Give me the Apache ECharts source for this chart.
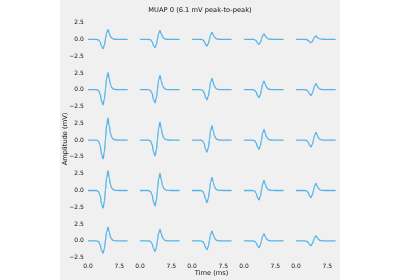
<!DOCTYPE html>
<html><head><meta charset="utf-8">
<script src="https://cdn.jsdelivr.net/npm/echarts@6/dist/echarts.min.js"></script>
<style>html,body{margin:0;padding:0;background:#fff}#c{width:400px;height:280px}</style>
</head><body><div id="c"></div>
<script>
// Time axis (ms), shared by all channels
const timeMs = [0, 2, 2.5, 2.9, 3.25, 3.6, 3.95, 4.2, 4.45, 4.8, 5.1, 5.4, 5.7, 6.0, 6.5, 7.5, 9.5];
// MUAP amplitude (mV) per channel, row r / column c
const ch11 = [0,0,-0.07,-0.39,-1.05,-1.4,-0.84,0.07,0.94,1.45,0.9,0.44,0.19,0.07,0.01,0,0];
const ch12 = [0,0,-0.06,-0.35,-0.94,-1.25,-0.75,0.07,0.85,1.3,0.81,0.39,0.17,0.07,0.01,0,0];
const ch13 = [0,0,-0.05,-0.28,-0.75,-1.0,-0.6,0.05,0.68,1.05,0.65,0.32,0.14,0.05,0.01,0,0];
const ch14 = [0,0,-0.04,-0.21,-0.56,-0.75,-0.45,0.04,0.52,0.8,0.5,0.24,0.1,0.04,0.01,0,0];
const ch15 = [0,0,-0.03,-0.14,-0.38,-0.5,-0.3,0.03,0.33,0.5,0.31,0.15,0.07,0.03,0.01,0,0];
const ch21 = [0,0,-0.11,-0.63,-1.69,-2.25,-1.35,0.13,1.66,2.55,1.58,0.77,0.33,0.13,0.03,0,0];
const ch22 = [0,0,-0.1,-0.55,-1.46,-1.95,-1.17,0.11,1.4,2.15,1.33,0.65,0.28,0.11,0.02,0,0];
const ch23 = [0,0,-0.08,-0.42,-1.13,-1.5,-0.9,0.09,1.11,1.7,1.05,0.51,0.22,0.09,0.02,0,0];
const ch24 = [0,0,-0.06,-0.34,-0.9,-1.2,-0.72,0.07,0.85,1.3,0.81,0.39,0.17,0.07,0.01,0,0];
const ch25 = [0,0,-0.04,-0.24,-0.64,-0.85,-0.51,0.05,0.59,0.9,0.56,0.27,0.12,0.05,0.01,0,0];
const ch31 = [0,0,-0.14,-0.78,-2.1,-2.8,-1.68,0.17,2.15,3.3,2.05,0.99,0.43,0.17,0.03,0,0];
const ch32 = [0,0,-0.12,-0.66,-1.76,-2.35,-1.41,0.14,1.76,2.7,1.67,0.81,0.35,0.14,0.03,0,0];
const ch33 = [0,0,-0.09,-0.5,-1.35,-1.8,-1.08,0.11,1.4,2.15,1.33,0.65,0.28,0.11,0.02,0,0];
const ch34 = [0,0,-0.07,-0.38,-1.01,-1.35,-0.81,0.08,1.04,1.6,0.99,0.48,0.21,0.08,0.02,0,0];
const ch35 = [0,0,-0.05,-0.28,-0.75,-1.0,-0.6,0.06,0.75,1.15,0.71,0.35,0.15,0.06,0.01,0,0];
const ch41 = [0,0,-0.13,-0.74,-1.99,-2.65,-1.59,0.15,1.92,2.95,1.83,0.89,0.38,0.15,0.03,0,0];
const ch42 = [0,0,-0.12,-0.64,-1.73,-2.3,-1.38,0.13,1.66,2.55,1.58,0.77,0.33,0.13,0.03,0,0];
const ch43 = [0,0,-0.09,-0.5,-1.35,-1.8,-1.08,0.1,1.27,1.95,1.21,0.59,0.25,0.1,0.02,0,0];
const ch44 = [0,0,-0.07,-0.39,-1.05,-1.4,-0.84,0.08,0.98,1.5,0.93,0.45,0.2,0.08,0.02,0,0];
const ch45 = [0,0,-0.05,-0.29,-0.79,-1.05,-0.63,0.05,0.68,1.05,0.65,0.32,0.14,0.05,0.01,0,0];
const ch51 = [0,0,-0.09,-0.52,-1.39,-1.85,-1.11,0.1,1.33,2.05,1.27,0.62,0.27,0.1,0.02,0,0];
const ch52 = [0,0,-0.08,-0.43,-1.16,-1.55,-0.93,0.09,1.14,1.75,1.09,0.53,0.23,0.09,0.02,0,0];
const ch53 = [0,0,-0.07,-0.36,-0.98,-1.3,-0.78,0.07,0.94,1.45,0.9,0.44,0.19,0.07,0.01,0,0];
const ch54 = [0,0,-0.05,-0.28,-0.75,-1.0,-0.6,0.05,0.68,1.05,0.65,0.32,0.14,0.05,0.01,0,0];
const ch55 = [0,0,-0.04,-0.2,-0.53,-0.7,-0.42,0.04,0.49,0.75,0.47,0.23,0.1,0.04,0.01,0,0];
const xTickValues = [0, 7.5];
const yTickValues = [-2.5, 0, 2.5];
const titleText = 'MUAP 0 (6.1 mV peak-to-peak)';
const xLabelText = 'Time (ms)';
const yLabelText = 'Amplitude (mV)';

const channels = [
  [ch11, ch12, ch13, ch14, ch15],
  [ch21, ch22, ch23, ch24, ch25],
  [ch31, ch32, ch33, ch34, ch35],
  [ch41, ch42, ch43, ch44, ch45],
  [ch51, ch52, ch53, ch54, ch55]
];

const FONT = 'DejaVu Sans';
const fmt = v => (v < 0 ? '\u2212' : '') + Math.abs(v).toFixed(1);
const grids = [], xAxes = [], yAxes = [], series = [];
let idx = 0;
for (let r = 0; r < 5; r++) {
  for (let c = 0; c < 5; c++) {
    grids.push({left: 85.9 + c * 52, top: 15.3 + r * 50.4, width: 43.8, height: 44.7,
      containLabel: false, outerBoundsMode: 'none'});
    xAxes.push({type: 'value', gridIndex: idx, min: -0.5, max: 10,
      axisLine: {show: false}, axisTick: {show: false}, splitLine: {show: false},
      axisLabel: {show: r === 4, customValues: xTickValues, formatter: fmt, fontSize: 6, fontFamily: FONT, color: '#111', margin: 2}});
    yAxes.push({type: 'value', gridIndex: idx, min: -3.1, max: 3.6,
      axisLine: {show: false}, axisTick: {show: false}, splitLine: {show: false},
      axisLabel: {show: c === 0, customValues: yTickValues, formatter: fmt, fontSize: 6, fontFamily: FONT, color: '#111', margin: 2}});
    const vals = channels[r][c];
    series.push({type: 'line', xAxisIndex: idx, yAxisIndex: idx, showSymbol: false,
      smooth: 0.45, smoothMonotone: 'x',
      lineStyle: {color: '#56b4e9', width: 1.3},
      data: timeMs.map((t, i) => [t, vals[i]])});
    idx++;
  }
}

const chart = echarts.init(document.getElementById('c'), null, {renderer: 'canvas'});
chart.setOption({
  animation: false,
  backgroundColor: '#ffffff',
  title: {text: titleText, left: 'center', top: 2,
    textStyle: {fontSize: 6.7, fontWeight: 'normal', fontFamily: FONT, color: '#111'}},
  graphic: [
    {type: 'rect', z: -10, silent: true, shape: {x: 60, y: 0, width: 280, height: 280}, style: {fill: '#f0f0f0'}},
    {type: 'text', x: 211.5, y: 273, style: {text: xLabelText, fontSize: 6.7, fontFamily: FONT, fill: '#111', align: 'center', verticalAlign: 'middle'}},
    {type: 'text', x: 65, y: 139, rotation: Math.PI / 2, style: {text: yLabelText, fontSize: 6.7, fontFamily: FONT, fill: '#111', align: 'center', verticalAlign: 'middle'}}
  ],
  grid: grids, xAxis: xAxes, yAxis: yAxes, series: series
});
</script></body></html>
